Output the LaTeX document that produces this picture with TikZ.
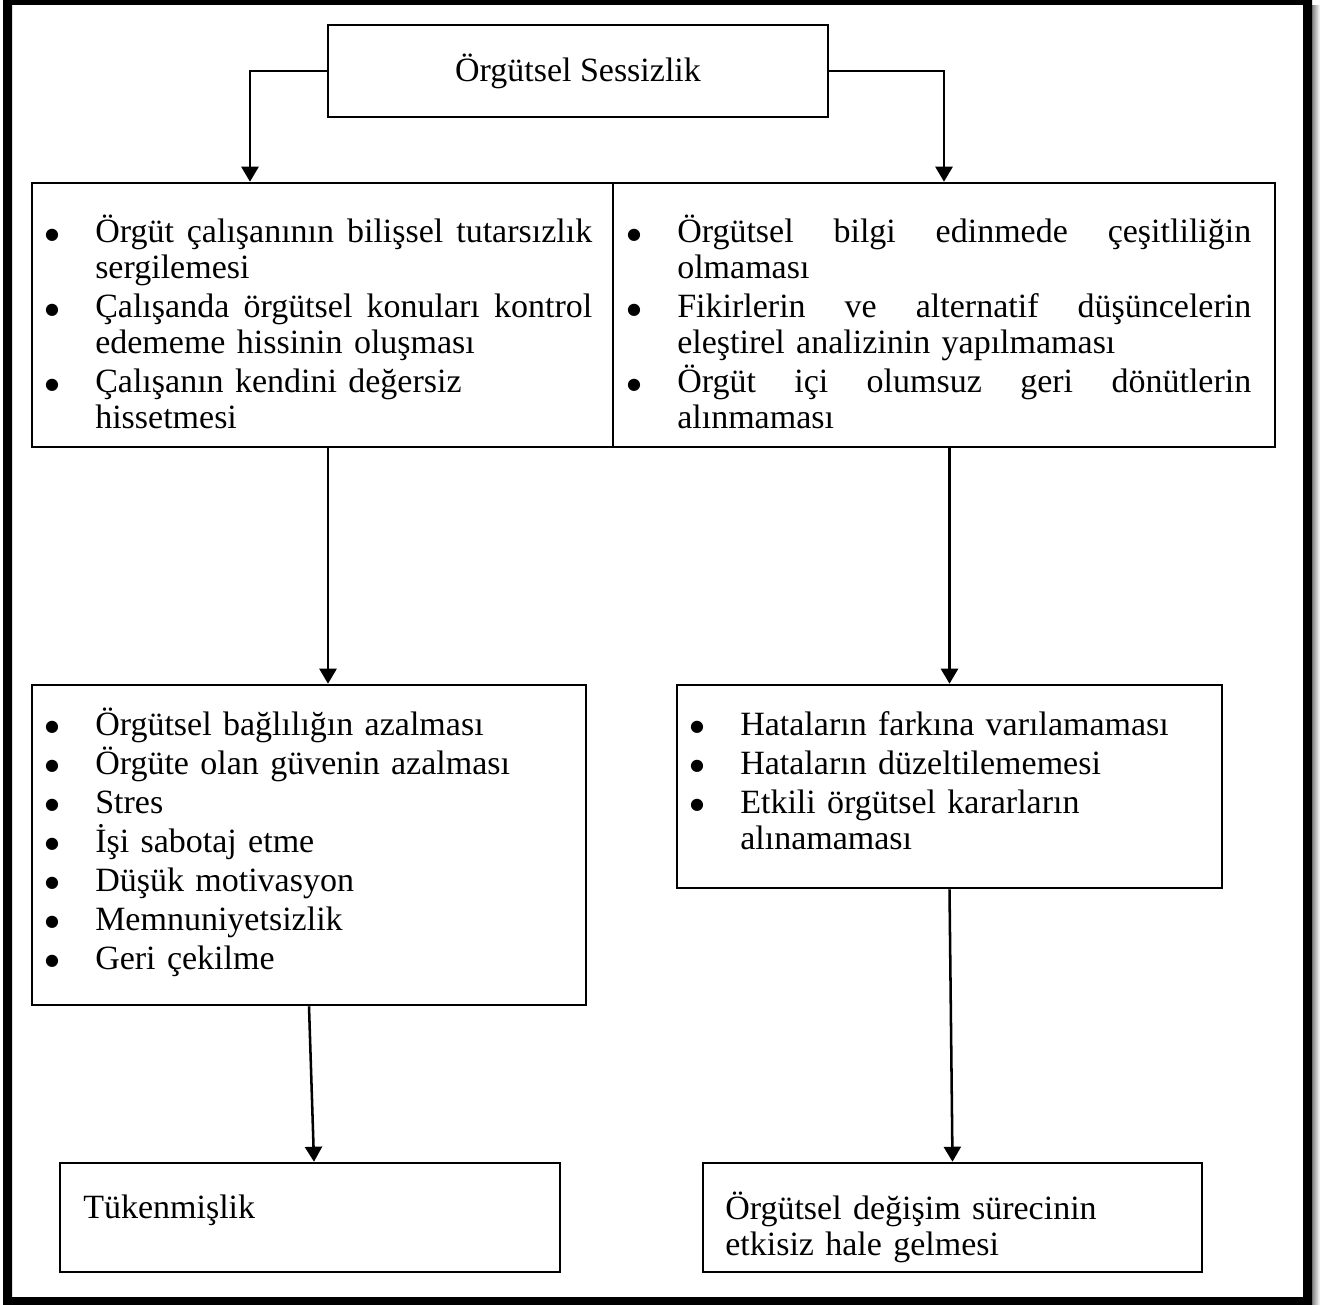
\documentclass[tikz,border=0pt]{standalone}
\usepackage{fontspec}
\setmainfont{Liberation Serif}
\newfontfamily\symfont{DejaVu Sans}
\usetikzlibrary{arrows.meta,fit}

% hanging bullet list item with a round bullet
\newlength\bulhang
\setlength\bulhang{38.25pt}
\newcommand\bigbullet{\hspace{0.6pt}\raisebox{2.6pt}{\symfont\fontsize{12pt}{12pt}\selectfont ●}}
\newcommand\bitem[1]{\hangindent=\bulhang\hangafter=1\noindent\makebox[\bulhang][l]{\bigbullet}#1\par}

\begin{document}
\begin{tikzpicture}[x=0.75pt,y=-0.75pt,
  box/.style={draw, line width=1.9pt, inner sep=0pt},
  conn/.style={line width=1.9pt, -{Triangle[width=12.75pt,length=11.25pt]}},
  txt/.style={inner sep=0pt, anchor=base west, font=\fontsize{25.5pt}{27pt}\selectfont},
  list/.style={txt, execute at begin node={\setlength\parskip{2.25pt}\hyphenpenalty=10000\relax}},
]
\useasboundingbox (0,0) rectangle (1328,1305);

% page frame with a soft shadow on the right
\shade[left color=black!55, right color=white] (1311,6) rectangle (1320,1305);
\fill[black, even odd rule] (3,0) rectangle (1312,1305) (12,5) rectangle (1303,1297);

% boxes
\node[box, fit={(328,25)(828,117)}] (top) {};
\node[box, fit={(32,183)(613,447)}] (b1) {};
\node[box, fit={(613,183)(1275,447)}] (b2) {};
\node[box, fit={(32,685)(586,1005)}] (b3) {};
\node[box, fit={(677,685)(1222,888)}] (b4) {};
\node[box, fit={(60,1163)(560,1272)}] (b5) {};
\node[box, fit={(703,1163)(1202,1272)}] (b6) {};

% box contents
\node[txt, anchor=base] (t0) at (578,82) {Örgütsel Sessizlik};
\node[list, text width=411pt] (t1) at (44,243) {%
  \bitem{Örgüt \hfill çalışanının \hfill bilişsel \hfill tutarsızlık\newline sergilemesi}
  \bitem{Çalışanda \hfill örgütsel \hfill konuları \hfill kontrol\newline edememe hissinin oluşması}
  \bitem{Çalışanın kendini değersiz\newline hissetmesi}};
\node[list, text width=468.75pt] (t2) at (626,243) {%
  \bitem{Örgütsel \hfill bilgi \hfill edinmede \hfill çeşitliliğin\newline olmaması}
  \bitem{Fikirlerin \hfill ve \hfill alternatif \hfill düşüncelerin\newline eleştirel analizinin yapılmaması}
  \bitem{Örgüt \hfill içi \hfill olumsuz \hfill geri \hfill dönütlerin\newline alınmaması}};
\node[list, text width=405pt] (t3) at (44,735) {%
  \bitem{Örgütsel bağlılığın azalması}
  \bitem{Örgüte olan güvenin azalması}
  \bitem{Stres}
  \bitem{İşi sabotaj etme}
  \bitem{Düşük motivasyon}
  \bitem{Memnuniyetsizlik}
  \bitem{Geri çekilme}};
\node[list, text width=391pt] (t4) at (689,735) {%
  \bitem{Hataların farkına varılamaması}
  \bitem{Hataların düzeltilememesi}
  \bitem{Etkili örgütsel kararların\newline alınamaması}};
\node[txt] (t5) at (83,1218) {Tükenmişlik};
\node[list, text width=350pt] (t6) at (725,1219) {Örgütsel değişim sürecinin\newline etkisiz hale gelmesi};

% connectors
\coordinate (la) at (250,0);
\coordinate (lb) at (328,0);
\draw[conn] (top.west) -| (la |- b1.north);
\draw[conn] (top.east) -| (b2.north);
\draw[conn] (lb |- b1.south) -- (lb |- b3.north);
\draw[conn] (b4.north |- b2.south) -- (b4.north);
\draw[conn] (b3.south) -- ([xshift=3pt]b5.north);
\draw[conn] (b4.south) -- (b6.north);
\end{tikzpicture}
\end{document}
